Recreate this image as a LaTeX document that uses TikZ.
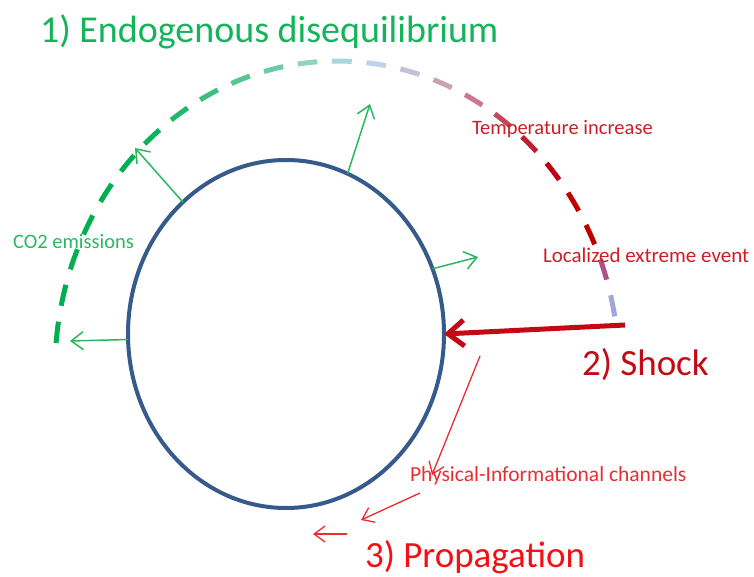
\documentclass[tikz,border=0pt]{standalone}
\usepackage{fontspec}
\setmainfont{Carlito}
\usetikzlibrary{arrows.meta,shapes.geometric}
\definecolor{titlegreen}{RGB}{20,180,90}
\definecolor{lightgreen}{RGB}{40,185,95}
\definecolor{ringblue}{RGB}{55,90,140}
\definecolor{darkred}{RGB}{195,10,20}
\definecolor{labelred}{RGB}{205,30,40}
\definecolor{chanred}{RGB}{235,45,50}
\definecolor{propred}{RGB}{245,15,20}
\tikzset{
  greenarrow/.style={draw=lightgreen, line width=1.5pt, -{Straight Barb[length=12pt,width=18pt]}},
  redarrow/.style={draw=chanred, line width=1.3pt, -{Straight Barb[length=11pt,width=16pt]}},
  shockarrow/.style={draw=darkred, line width=5pt, -{Straight Barb[length=16pt,width=26pt]}},
  lbl/.style={anchor=base west, inner sep=0pt, outer sep=0pt},
}
\begin{document}
\begin{tikzpicture}[x=1pt,y=-1pt]
\useasboundingbox (0,0) rectangle (754,577);
% gradient dashed arc
\foreach \a/\c in {175/{0,176,80},168/{0,176,80},161/{0,176,80},154/{0,176,80},147/{0,176,80},140/{0,176,80},133/{10,180,90},126/{30,185,105},119/{60,190,125},112/{85,197,145},105/{110,202,165},98/{145,210,195},91/{170,214,218},84/{190,210,235},77/{200,190,215},70/{205,160,180},63/{205,120,140},56/{200,70,90},49/{195,30,45},42/{192,0,20},35/{192,0,0},28/{192,0,0},21/{175,80,130},14/{160,165,220}}{
  \definecolor{dc}{RGB}{\c}
  \draw[dc, line width=5pt] plot[domain=\a-4:\a, samples=6, variable=\t] ({337+282*cos(\t)},{370-309*sin(\t)});
}
% ring
\node[draw=ringblue, line width=4pt, ellipse, minimum width=316pt, minimum height=348pt, inner sep=0pt, outer sep=0pt] (ring) at (286,334) {};
% green arrows
\coordinate (g1) at (135,148);
\coordinate (g2) at (370,104);
\coordinate (g3) at (478,257);
\coordinate (g4) at (70,341);
\draw[greenarrow] (ring.128) -- (g1);
\draw[greenarrow] (ring.69) -- (g2);
\draw[greenarrow] (ring.24) -- (g3);
\draw[greenarrow] (ring.182) -- (g4);
% shock
\coordinate (s0) at (625,325);
\draw[shockarrow] (s0) -- (ring.0);
% propagation arrows
\coordinate (r1a) at (480,356);
\coordinate (r1b) at (432,475);
\coordinate (r2a) at (420,493);
\coordinate (r2b) at (361,520);
\coordinate (r3a) at (347,534);
\coordinate (r3b) at (313,534);
\draw[redarrow] (r1a) -- (r1b);
\draw[redarrow] (r2a) -- (r2b);
\draw[redarrow] (r3a) -- (r3b);
% texts
\node[lbl, text=titlegreen, font=\fontsize{38}{40}\selectfont] (title) at (40,43) {1) Endogenous disequilibrium};
\node[lbl, text=labelred, font=\fontsize{20.5}{22}\selectfont] (temp) at (472,135) {Temperature increase};
\node[lbl, text=labelred, font=\fontsize{21}{22}\selectfont] (loc) at (543,262) {Localized extreme event};
\node[lbl, text=lightgreen, font=\fontsize{20.5}{22}\selectfont] (co2) at (13,248) {CO2 emissions};
\node[lbl, text=darkred, font=\fontsize{37}{40}\selectfont] (shock) at (582,375) {2) Shock};
\node[lbl, text=chanred, font=\fontsize{21.5}{23}\selectfont] (chan) at (410,481) {Physical-Informational channels};
\node[lbl, text=propred, font=\fontsize{37}{40}\selectfont] (prop) at (365,567) {3) Propagation};
\end{tikzpicture}
\end{document}
